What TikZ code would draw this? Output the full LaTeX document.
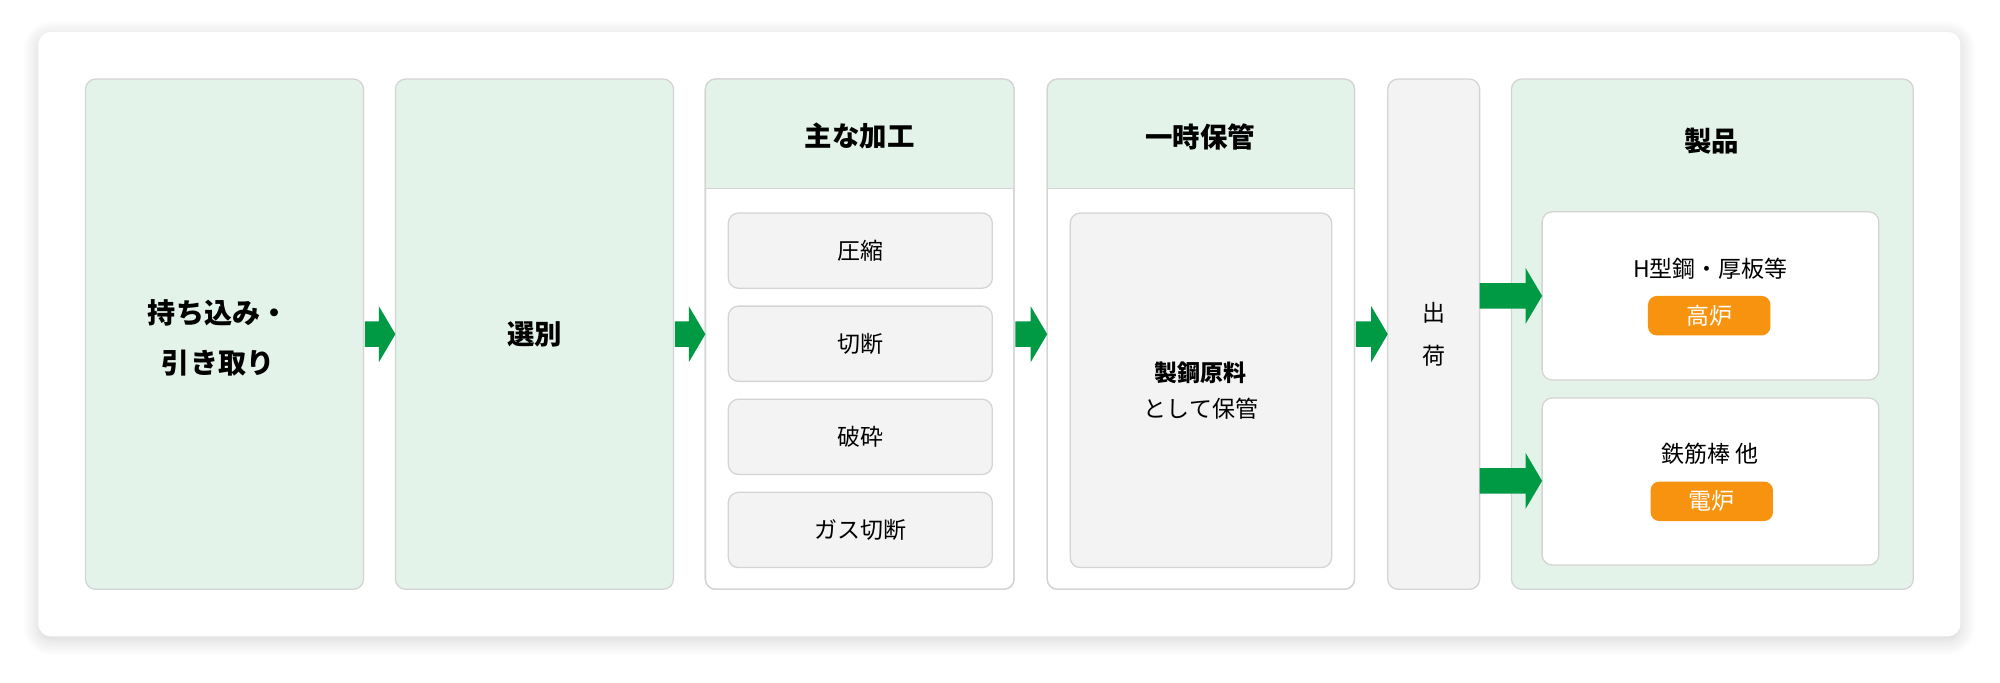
\documentclass[tikz,border=0pt]{standalone}
\usepackage{fontspec}
\setmainfont{Noto Sans CJK JP}
\usetikzlibrary{shadows.blur}
\definecolor{lg}{HTML}{E4F3EA}
\definecolor{bd}{HTML}{D4D4D4}
\definecolor{gy}{HTML}{F3F3F3}
\definecolor{ar}{HTML}{009944}
\definecolor{og}{HTML}{F7930E}
\tikzset{
 panel/.style={draw=bd,line width=1pt,rounded corners=8pt},
 big/.style={font=\fontsize{21.5}{32}\selectfont\bfseries,align=center},
 small/.style={font=\fontsize{18}{28}\selectfont,align=center},
 pill/.style={fill=og,rounded corners=7pt,text=white,font=\fontsize{18}{20}\selectfont,minimum width=96pt,minimum height=31pt,inner sep=0pt},
 barrow/.style={fill=ar},
}
\newcommand{\blockarrow}[3]{% x1, x2, y
 \fill[barrow] (#1,#3-10) -- (#2-13,#3-10) -- (#2-13,#3-22) -- (#2,#3) -- (#2-13,#3+22) -- (#2-13,#3+10) -- (#1,#3+10) -- cycle;}
\begin{document}
\begin{tikzpicture}[x=1pt,y=-1pt]
\useasboundingbox (0,0) rectangle (1568,535);
\fill[white,rounded corners=10pt,blur shadow={shadow blur steps=12,shadow xshift=0pt,shadow yshift=-3pt,shadow blur radius=12pt,shadow opacity=18}] (30,25) rectangle (1537,499);
% box1
\draw[panel,fill=lg] (67,62) rectangle (285,462);
\node[big,font=\fontsize{22}{39}\selectfont\bfseries] (b1) at (171,265) {持ち込み・\\引き取り};
% box2
\draw[panel,fill=lg] (310,62) rectangle (528,462);
\node[big] (b2) at (419,262) {選別};
% box3
\draw[panel,fill=white] (553,62) rectangle (795,462);
\begin{scope}
\clip[rounded corners=8pt] (553,62) rectangle (795,300);
\fill[lg] (553,62) rectangle (795,148);
\end{scope}
\draw[panel] (553,62) rectangle (795,462);
\draw[bd,line width=1pt] (553,148) -- (795,148);
\node[big] (t3) at (674,107) {主な加工};
\foreach \y/\t/\n in {167/圧縮/p1,240/切断/p2,313/破砕/p3,386/ガス切断/p4}{
 \draw[panel,fill=gy] (571,\y) rectangle (778,\y+59);
 \node[small] (\n) at (674.5,\y+29.5) {\t};
}
% box4
\draw[panel,fill=white] (821,62) rectangle (1062,462);
\begin{scope}
\clip[rounded corners=8pt] (821,62) rectangle (1062,300);
\fill[lg] (821,62) rectangle (1062,148);
\end{scope}
\draw[panel] (821,62) rectangle (1062,462);
\draw[bd,line width=1pt] (821,148) -- (1062,148);
\node[big] (t4) at (941,107) {一時保管};
\draw[panel,fill=gy] (839,167) rectangle (1044,445);
\node[small] (s4) at (941.5,306) {\textbf{製鋼原料}\\として保管};
% box5
\draw[panel,fill=gy] (1088,62) rectangle (1160,462);
\node[small] (b5) at (1124,262) {出\\[6pt]荷};
% box6
\draw[panel,fill=lg] (1185,62) rectangle (1500,462);
\node[big] (t6) at (1342,111) {製品};
\draw[panel,fill=white] (1209,166) rectangle (1473,298);
\node[small] (q1) at (1341,211) {H型鋼・厚板等};
\node[pill] (o1) at (1340,247.5) {高炉};
\draw[panel,fill=white] (1209,312) rectangle (1473,443);
\node[small] (q2) at (1341,356) {鉄筋棒 他};
\node[pill] (o2) at (1342,393) {電炉};
% arrows
\blockarrow{286}{310}{262}
\blockarrow{529}{553}{262}
\blockarrow{796}{821}{262}
\blockarrow{1063}{1088}{262}
\blockarrow{1160}{1209}{232}
\blockarrow{1160}{1209}{377}
\end{tikzpicture}
\end{document}
